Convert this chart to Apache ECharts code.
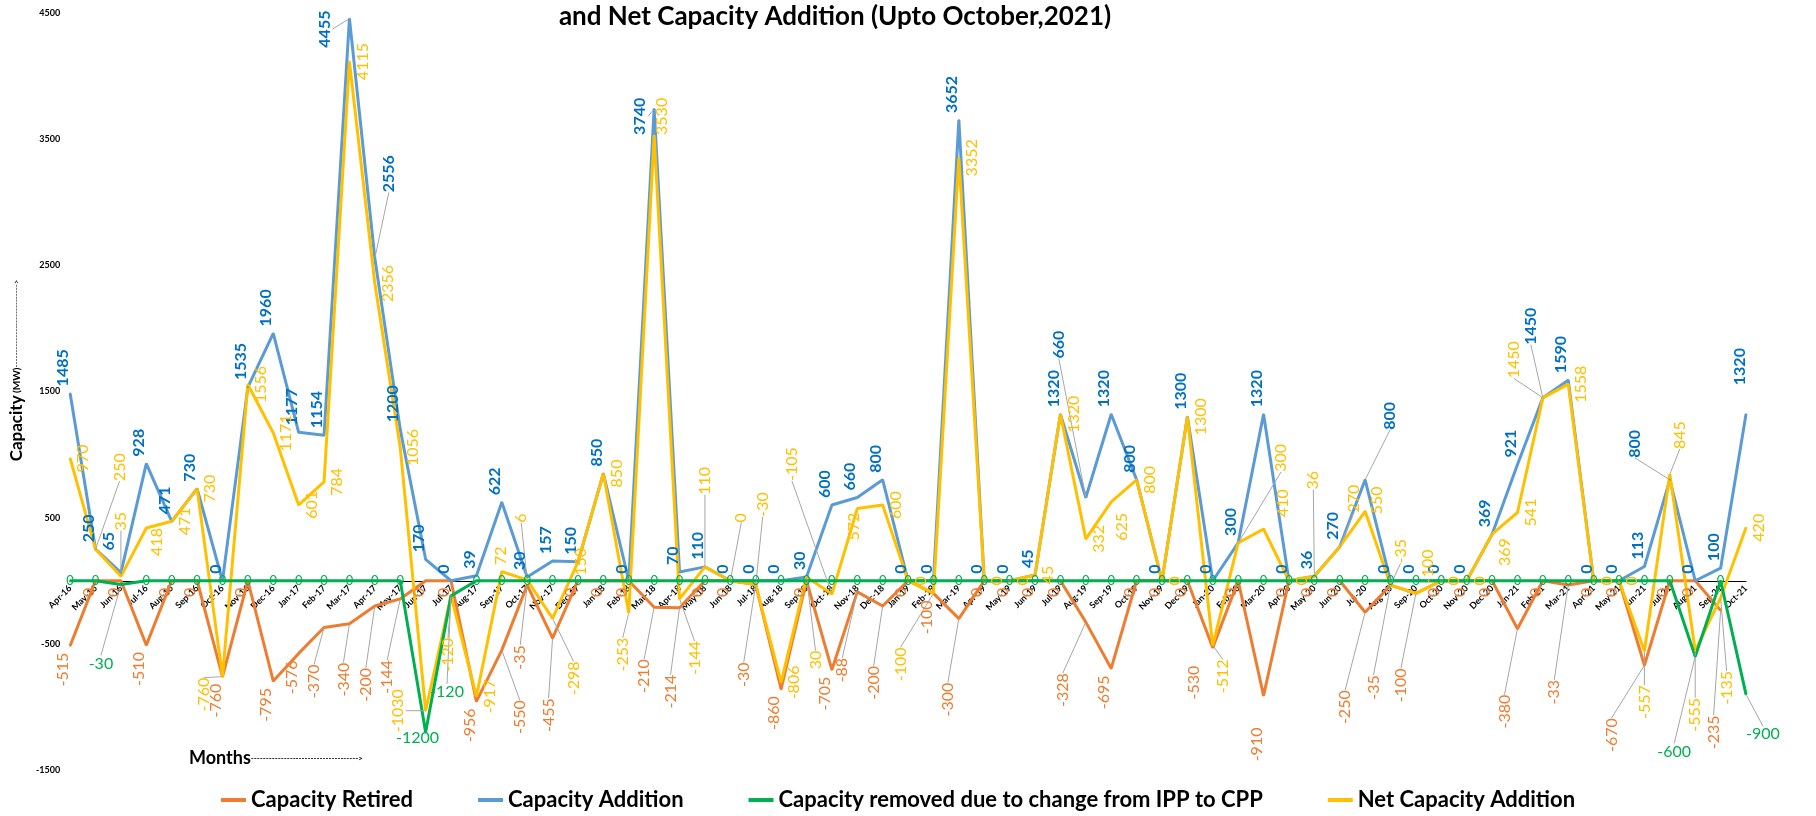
<!DOCTYPE html>
<html>
<head>
<meta charset="utf-8">
<title>Capacity Retired, Capacity Addition and Net Capacity Addition</title>
<script src="https://cdn.jsdelivr.net/npm/echarts@6/dist/echarts.min.js"></script>
<style>
  html, body { margin: 0; padding: 0; background: #fff; }
  #chart { width: 1816px; height: 816px; }
</style>
</head>
<body>
<div id="chart"></div>
<script>
const months = [
  'Apr-16', 'May-16', 'Jun-16', 'Jul-16', 'Aug-16', 'Sep-16', 'Oct-16', 'Nov-16', 'Dec-16', 'Jan-17', 'Feb-17', 'Mar-17',
  'Apr-17', 'May-17', 'Jun-17', 'Jul-17', 'Aug-17', 'Sep-17', 'Oct-17', 'Nov-17', 'Dec-17', 'Jan-18', 'Feb-18', 'Mar-18',
  'Apr-18', 'May-18', 'Jun-18', 'Jul-18', 'Aug-18', 'Sep-18', 'Oct-18', 'Nov-18', 'Dec-18', 'Jan-19', 'Feb-19', 'Mar-19',
  'Apr-19', 'May-19', 'Jun-19', 'Jul-19', 'Aug-19', 'Sep-19', 'Oct-19', 'Nov-19', 'Dec-19', 'Jan-20', 'Feb-20', 'Mar-20',
  'Apr-20', 'May-20', 'Jun-20', 'Jul-20', 'Aug-20', 'Sep-20', 'Oct-20', 'Nov-20', 'Dec-20', 'Jan-21', 'Feb-21', 'Mar-21',
  'Apr-21', 'May-21', 'Jun-21', 'Jul-21', 'Aug-21', 'Sep-21', 'Oct-21'
]

const retired = [
  -515, 0, 0, -510, 0, 0, -760, 0, -795, -576, -370, -340,
  -200, -144, 0, 0, -956, -550, -35, -455, 0, 0, 0, -210,
  -214, 0, 0, -30, -860, 0, -705, -88, -200, 0, -100, -300,
  0, 0, 0, 0, -328, -695, 0, 0, 0, -530, 0, -910,
  0, 0, 0, -250, -35, -100, 0, 0, 0, -380, 0, -33,
  0, 0, -670, 0, 0, -235, null
]

const addition = [
  1485, 250, 65, 928, 471, 730, 0, 1535, 1960, 1177, 1154, 4455,
  2556, 1200, 170, 0, 39, 622, 30, 157, 150, 850, 0, 3740,
  70, 110, 0, 0, 0, 30, 600, 660, 800, 0, 0, 3652,
  0, 0, 45, 1320, 660, 1320, 800, 0, 1300, 0, 300, 1320,
  0, 36, 270, 800, 0, 0, 0, 0, 369, 921, 1450, 1590,
  0, 0, 113, 800, 0, 100, 1320
]

const ippToCpp = [
  0, 0, -30, 0, 0, 0, 0, 0, 0, 0, 0, 0,
  0, 0, -1200, -120, 0, 0, 0, 0, 0, 0, 0, 0,
  0, 0, 0, 0, 0, 0, 0, 0, 0, 0, 0, 0,
  0, 0, 0, 0, 0, 0, 0, 0, 0, 0, 0, 0,
  0, 0, 0, 0, 0, 0, 0, 0, 0, 0, 0, 0,
  0, 0, 0, 0, -600, 0, -900
]

const netAddition = [
  970, 250, 35, 418, 471, 730, -760, 1556, 1171, 601, 784, 4115,
  2356, 1056, -1030, -120, -917, 72, 6, -298, 150, 850, -253, 3530,
  -144, 110, 0, -30, -806, 30, -105, 572, 600, 0, -100, 3352,
  0, 0, 45, 1320, 332, 625, 800, 0, 1300, -512, 300, 410,
  0, 36, 270, 550, -35, -100, 0, 0, 369, 541, 1450, 1558,
  0, 0, -557, 845, -555, -135, 420
]

const yMin = -1500
const yMax = 4500
const yStep = 1000

// labels that were dragged away from their points in the original: screen [dx, dy] in px
const retiredNudge = {
  10: [-3, 30], 11: [1, 32], 12: [-2, 55], 13: [-6, 54],
  17: [25, 43], 18: [0, 53], 19: [3, 53],
  23: [-3, 45], 24: [-2, 60], 27: [-5, 71], 31: [-8, 59], 32: [-2, 53], 35: [-4, 57],
  40: [-16, 44], 45: [-12, 11], 47: [0, 25],
  51: [-13, 71], 52: [-10, 83], 53: [-8, 68], 57: [-6, 59], 59: [-7, 88], 62: [-26, 46], 65: [0, 98]
}
const additionNudge = {
  2: [-5, -15], 11: [-18, 36], 12: [21, -59], 23: [-7, 33], 40: [-20, -132],
  51: [32, -43], 58: [-5, -46], 63: [-28, -15], 66: [1, -22]
}
const netNudge = {
  1: [11, -82], 2: [-13, -55], 3: [-2, 14], 6: [-32, 18], 14: [-41, 0], 15: [-16, 59],
  17: [-14, -16], 18: [-19, -62], 19: [8, 60], 20: [-10, 0], 22: [-19, 42], 23: [-5, -19],
  24: [2, 59], 25: [-13, -86], 26: [-2, -63], 27: [-6, -80], 29: [-4, 83], 30: [-53, -130],
  31: [-16, 18], 34: [-46, 71], 41: [-2, 25], 45: [-3, 31], 46: [30, -85], 47: [6, -26],
  49: [-14, -96], 50: [1, -48], 51: [-1, -11], 52: [-3, -34], 53: [-1, -27], 56: [0, 18],
  58: [-42, -38], 62: [-13, 51], 63: [-3, -39], 64: [-13, 64], 65: [-7, 90]
}
const ippNudge = { 2: [-20, 66], 14: [-8, -7], 15: [-4, 83], 64: [-21, 82], 66: [17, 27] }

const FONT = 'Lato'
const guide = { color: '#a6a6a6', width: 1 }

function items(values, nudge, extra) {
  return values.map((v, i) => {
    const n = nudge[i]
    const item = { value: v }
    if (n && Math.hypot(n[0], n[1]) > 30) item.labelLine = { show: true, lineStyle: guide }
    if (extra) Object.assign(item, extra(v, i))
    return item
  })
}

// rotated labels take dx/dy in their own (turned) frame, so swap screen offsets into it
function layoutFrom(nudge, rotated) {
  return p => {
    const n = nudge[p.dataIndex] || [0, 0]
    if (!rotated) return { dx: n[0], dy: n[1] }
    return { dx: -n[1], dy: n[0] - 7 }
  }
}

function lineSeries(name, values, color, nudge, label, extra) {
  return {
    name,
    type: 'line',
    data: items(values, nudge, extra),
    symbol: 'circle',
    symbolSize: 2,
    showSymbol: true,
    showAllSymbol: true,
    connectNulls: false,
    lineStyle: { color, width: 3 },
    itemStyle: { color },
    emphasis: { disabled: true },
    label: Object.assign({ show: true, fontFamily: FONT, fontSize: 16 }, label),
    labelLayout: layoutFrom(nudge, !!label.rotate),
    animation: false
  }
}

const chart = echarts.init(document.getElementById('chart'))

chart.setOption({
  animation: false,
  title: [
    {
      text: 'and Net Capacity Addition (Upto October,2021)',
      left: 830,
      top: -1,
      textAlign: 'center',
      textStyle: { fontFamily: FONT, fontSize: 26, fontWeight: 'bold', color: '#000' }
    },
    {
      text: '{a|Months}{b|------------------------------------>}',
      left: 184,
      top: 744,
      textStyle: {
        rich: {
          a: { fontFamily: FONT, fontSize: 18, fontWeight: 'bold', color: '#000' },
          b: { fontFamily: FONT, fontSize: 8, color: '#000' }
        }
      }
    }
  ],
  legend: {
    data: ['Capacity Retired', 'Capacity Addition', 'Capacity removed due to change from IPP to CPP', 'Net Capacity Addition'],
    left: 216,
    top: 784,
    icon: 'rect',
    itemWidth: 25,
    itemHeight: 4,
    itemGap: 65,
    textStyle: { fontFamily: FONT, fontSize: 22, fontWeight: 'bold', color: '#000' }
  },
  grid: { left: 60, right: 70, top: 13, bottom: 46 },
  xAxis: {
    type: 'category',
    data: months,
    boundaryGap: false,
    // sit the month axis on the zero line: 1500 of 6000 units above the grid bottom
    offset: -757 * (0 - yMin) / (yMax - yMin),
    axisLine: { onZero: false, lineStyle: { color: '#000', width: 1 } },
    axisTick: { show: false },
    axisLabel: {
      interval: 0,
      rotate: 45,
      margin: 6,
      fontFamily: FONT,
      fontSize: 9,
      fontWeight: 'bold',
      color: '#000'
    },
    splitLine: { show: false }
  },
  yAxis: {
    type: 'value',
    min: yMin,
    max: yMax,
    interval: yStep,
    axisLine: { show: false },
    axisTick: { show: false },
    splitLine: { show: false },
    axisLabel: {
      margin: 10, fontFamily: FONT, fontSize: 9, fontWeight: 'bold', color: '#000',
      formatter: v => String(v)
    },
    name: '{a|Capacity}{b| (MW)}{c|---------------------------->}',
    nameLocation: 'middle',
    nameRotate: 90,
    nameGap: 36,
    nameTextStyle: {
      padding: [0, 0, 0, 42],
      rich: {
        a: { fontFamily: FONT, fontSize: 17, fontWeight: 'bold', color: '#000' },
        b: { fontFamily: FONT, fontSize: 10, fontWeight: 'bold', color: '#000' },
        c: { fontFamily: FONT, fontSize: 8, color: '#000' }
      }
    }
  },
  series: [
    lineSeries('Capacity Retired', retired, '#ED7D31', retiredNudge, {
      position: 'bottom', distance: 6, rotate: 90, align: 'right', verticalAlign: 'middle', color: '#ED7D31'
    }),
    lineSeries('Capacity Addition', addition, '#5B9BD5', additionNudge, {
      position: 'top', distance: 6, rotate: 90, align: 'left', verticalAlign: 'middle',
      color: '#0070C0', fontWeight: 'bold'
    }),
    lineSeries('Net Capacity Addition', netAddition, '#FFC000', netNudge, {
      position: 'right', distance: 19, rotate: 90, align: 'center', verticalAlign: 'middle', color: '#FFC000'
    }),
    lineSeries('Capacity removed due to change from IPP to CPP', ippToCpp, '#00B050', ippNudge, {
      position: 'inside', color: '#00B050', fontSize: 13
    }, v => (v === 0 ? {} : {
      label: { position: 'bottom', distance: 4, fontSize: 16 }
    }))
  ]
})
</script>
</body>
</html>
